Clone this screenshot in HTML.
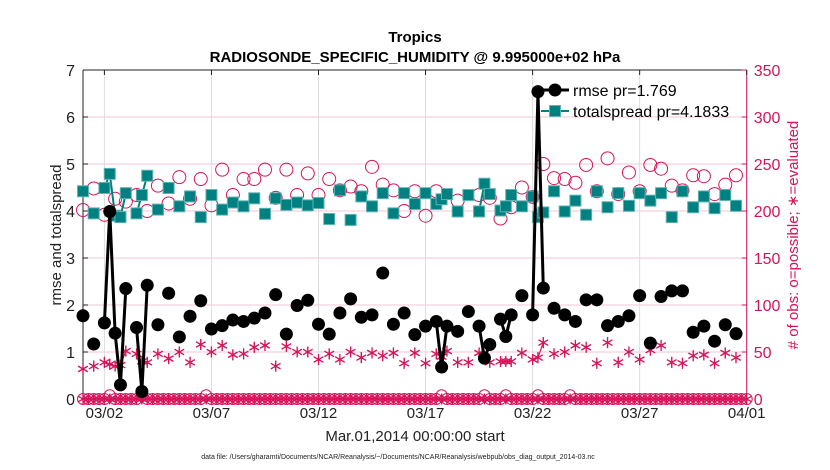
<!DOCTYPE html>
<html><head><meta charset="utf-8"><style>
body{margin:0;background:#fff;}
svg{display:block;font-family:"Liberation Sans",Arial,sans-serif;}
</style></head><body>
<svg id="chart" width="830" height="470" viewBox="0 0 830 470">
<text x="415" y="42" text-anchor="middle" font-size="15" font-weight="bold">Tropics</text>
<text x="415" y="62" text-anchor="middle" font-size="15" font-weight="bold">RADIOSONDE_SPECIFIC_HUMIDITY @ 9.995000e+02 hPa</text>
<g id="grid"></g>
<g id="axes"></g>
<g id="series"></g>
<g id="legend">
 <line x1="541" y1="90" x2="569" y2="90" stroke="#000" stroke-width="3"/>
 <circle cx="555" cy="90" r="6.5" fill="#000"/>
 <text x="573" y="96" font-size="16">rmse pr=1.769</text>
 <line x1="541" y1="111" x2="569" y2="111" stroke="#008080" stroke-width="2"/>
 <rect x="549.5" y="105.5" width="11" height="11" fill="#008080" stroke="#5fb3b3" stroke-width="1"/>
 <text x="573" y="117" font-size="16">totalspread pr=4.1833</text>
</g>
<text transform="translate(61,235) rotate(-90)" text-anchor="middle" font-size="15" fill="#222">rmse and totalspread</text>
<text transform="translate(798,235) rotate(-90)" text-anchor="middle" font-size="15" fill="#d6145a"># of obs: o=possible; ∗=evaluated</text>
<text x="415" y="441" text-anchor="middle" font-size="15" fill="#222">Mar.01,2014 00:00:00 start</text>
<text x="398" y="459" text-anchor="middle" font-size="7" fill="#222">data file: /Users/gharamti/Documents/NCAR/Reanalysis/~/Documents/NCAR/Reanalysis/webpub/obs_diag_output_2014-03.nc</text>
</svg>
<script>
const times=[0,0.5,1,1.25,1.5,1.75,2,2.5,2.75,3,3.5,4,4.5,5,5.5,6,6.5,7,7.5,8,8.5,9,9.5,10,10.5,11,11.5,12,12.5,13,13.5,14,14.5,15,15.5,16,16.5,16.75,17,17.5,18,18.5,18.75,19,19.5,19.75,20,20.5,21,21.25,21.5,22,22.5,23,23.5,24,24.5,25,25.5,26,26.5,27,27.5,28,28.5,29,29.5,30,30.5];
const rmse=[1.77,1.17,1.62,3.99,1.40,0.30,2.35,1.52,0.16,2.42,1.58,2.25,1.32,1.76,2.09,1.49,1.56,1.68,1.65,1.72,1.83,2.22,1.38,1.99,2.10,1.59,1.38,1.83,2.13,1.74,1.79,2.68,1.59,1.83,1.37,1.55,1.65,0.68,1.55,1.44,1.86,1.55,0.87,1.16,1.70,1.33,1.79,2.20,1.79,6.54,2.36,1.93,1.79,1.65,2.11,2.11,1.56,1.65,1.77,2.20,1.19,2.18,2.30,2.30,1.42,1.55,1.23,1.58,1.39];
const totalspread=[4.42,3.95,4.49,4.79,3.90,3.87,4.38,3.95,4.34,4.75,4.03,4.49,4.10,4.31,3.87,4.34,4.03,4.18,4.10,4.27,3.94,4.27,4.13,4.18,4.12,4.17,3.83,4.44,3.81,4.31,4.10,4.38,3.95,4.38,4.15,4.38,4.15,4.25,4.36,3.99,4.34,3.99,4.58,4.36,4.01,4.10,4.34,4.10,4.31,3.87,3.97,4.42,3.99,4.22,3.92,4.42,4.08,4.38,4.11,4.38,4.22,4.38,3.87,4.42,4.08,4.31,4.06,4.34,4.11];
const possibleObs=[201,224,196,null,213,null,210,217,null,200,227,208,236,213,234,206,244,217,234,234,244,214,244,217,240,217,234,222,226,221,247,228,222,200,221,195,221,null,null,211,null,217,null,214,192,null,204,225,215,null,250,235,234,230,249,221,256,218,241,221,249,245,227,222,238,237,218,228,238];
const evaluatedObs=[32,35,39,37,35,36,51,48,40,39,48,43,50,39,58,50,57,47,48,55,57,35,56,50,50,42,48,42,50,44,49,46,49,38,49,38,48,45,51,39,39,49,45,39,40,40,40,49,42,44,60,48,50,57,55,38,60,39,50,42,52,57,39,38,46,47,38,49,44];
const bottomStep=0.25;
const bottomPossible=[0,0,0,0,0,4,0,0,0,0,0,4,0,0,0,0,0,0,0,0,0,0,0,4,0,0,0,0,0,0,0,0,0,0,0,0,0,0,0,0,0,0,0,0,0,0,0,0,0,0,0,0,0,0,0,0,0,0,0,0,0,0,0,0,0,0,0,4,0,0,0,0,0,0,0,4,0,0,0,4,0,0,0,0,0,4,0,0,0,0,0,4,0,0,0,0,0,0,0,0,0,0,0,0,0,0,0,0,0,0,0,0,0,0,0,0,0,0,0,0,0,0,0,0,0];
const bottomEvaluated=[0,0,0,0,0,0,0,0,0,0,0,0,0,0,0,0,0,0,0,0,0,0,0,0,0,0,0,0,0,0,0,0,0,0,0,0,0,0,0,0,0,0,0,0,0,0,0,0,0,0,0,0,0,0,0,0,0,0,0,0,0,0,0,0,0,0,0,0,0,0,0,0,0,0,0,0,0,0,0,0,0,0,0,0,0,0,0,0,0,0,0,0,0,0,0,0,0,0,0,0,0,0,0,0,0,0,0,0,0,0,0,0,0,0,0,0,0,0,0,0,0,0,0,0,0];
const xTickDays=[1,6,11,16,21,26,31];
const xTickLabels=["03/02","03/07","03/12","03/17","03/22","03/27","04/01"];
const leftTicks=[0,1,2,3,4,5,6,7];
const rightTicks=[0,50,100,150,200,250,300,350];

const L=83,R=746.7,T=70,B=399,PINK="#d6145a";
const X=d=>L+(R-L)*d/31;
const Y=v=>B-(B-T)*v/7;
const Y2=v=>B-(B-T)*v/350;
const NS="http://www.w3.org/2000/svg";
function mk(parent,tag,attrs){const e=document.createElementNS(NS,tag);for(const k in attrs)e.setAttribute(k,attrs[k]);parent.appendChild(e);return e;}
const grid=document.getElementById('grid'),axes=document.getElementById('axes'),ser=document.getElementById('series');

leftTicks.forEach(v=>{const l=mk(grid,'line',{x1:L,x2:R,y1:Y(v),y2:Y(v),stroke:'#f6c6d6','stroke-width':1});

});
xTickDays.forEach(d=>{const l=mk(grid,'line',{x1:X(d),x2:X(d),y1:T,y2:B,stroke:'#dcdcdc','stroke-width':1});

});
mk(axes,'line',{x1:L,x2:L,y1:T,y2:B,stroke:'#222'});
mk(axes,'line',{x1:L,x2:R,y1:T,y2:T,stroke:'#222'});
mk(axes,'line',{x1:L,x2:R,y1:B,y2:B,stroke:'#222'});
mk(axes,'line',{x1:R,x2:R,y1:T,y2:B,stroke:PINK});
leftTicks.forEach(v=>{mk(axes,'line',{x1:L,x2:L+5,y1:Y(v),y2:Y(v),stroke:'#222'});
const t=mk(axes,'text',{x:L-8,y:Y(v)+6,'text-anchor':'end','font-size':16,fill:'#222'});t.textContent=v;

});
rightTicks.forEach(v=>{mk(axes,'line',{x1:R-5,x2:R,y1:Y2(v),y2:Y2(v),stroke:PINK});
const t=mk(axes,'text',{x:R+7,y:Y2(v)+6,'font-size':16,fill:PINK});t.textContent=v;

});
xTickDays.forEach((d,i)=>{mk(axes,'line',{x1:X(d),x2:X(d),y1:B,y2:B-5,stroke:'#222'});mk(axes,'line',{x1:X(d),x2:X(d),y1:T,y2:T+5,stroke:'#222'});
const t=mk(axes,'text',{x:X(d),y:B+19,'text-anchor':'middle','font-size':15,fill:'#222'});t.textContent=xTickLabels[i];

});

function segs(ts,vs,fy,color,w){for(let i=1;i<ts.length;i++){if(vs[i]==null||vs[i-1]==null)continue;if(ts[i]-ts[i-1]<=0.26){
const l=mk(ser,'line',{x1:X(ts[i-1]),y1:fy(vs[i-1]),x2:X(ts[i]),y2:fy(vs[i]),stroke:color,'stroke-width':w});

}}}
function star(x,y,name){const g=mk(ser,'g',{stroke:PINK,'stroke-width':1.2});


const r=5.5;mk(g,'line',{x1:x,y1:y-r,x2:x,y2:y+r});
[[1,0],[0.5,0.866],[-0.5,0.866]].forEach(([c,s])=>{mk(g,'line',{x1:x-r*s,y1:y-r*c,x2:x+r*s,y2:y+r*c});});
mk(g,'line',{x1:x-r*0.87,y1:y-r*0.5,x2:x+r*0.87,y2:y+r*0.5});mk(g,'line',{x1:x-r*0.87,y1:y+r*0.5,x2:x+r*0.87,y2:y-r*0.5});}

// bottom row
const bTimes=bottomPossible.map((_,i)=>i*bottomStep);
segs(bTimes,bottomEvaluated,Y2,PINK,1.2);
bTimes.forEach((t,i)=>{const c=mk(ser,'circle',{cx:X(t),cy:Y2(bottomPossible[i]),r:5.5,fill:'none',stroke:PINK,'stroke-width':1});


star(X(t),Y2(bottomEvaluated[i]),'evaluated-obs-zero');});

// evaluated
segs(times,evaluatedObs,Y2,PINK,1.2);
times.forEach((t,i)=>{if(evaluatedObs[i]!=null)star(X(t),Y2(evaluatedObs[i]),'evaluated-obs-point');});
// possible
times.forEach((t,i)=>{if(possibleObs[i]==null)return;const c=mk(ser,'circle',{cx:X(t),cy:Y2(possibleObs[i]),r:6.5,fill:'none',stroke:PINK,'stroke-width':1});

});
// spread
segs(times,totalspread,Y,'#008080',2);
times.forEach((t,i)=>{const s=mk(ser,'rect',{x:X(t)-5.5,y:Y(totalspread[i])-5.5,width:11,height:11,fill:'#008080',stroke:'#5fb3b3','stroke-width':1});

});
// rmse
segs(times,rmse,Y,'#000',3);
times.forEach((t,i)=>{const c=mk(ser,'circle',{cx:X(t),cy:Y(rmse[i]),r:6.5,fill:'#000'});

});
document.getElementById('chart').appendChild(document.getElementById('legend'));
</script>
</body></html>
